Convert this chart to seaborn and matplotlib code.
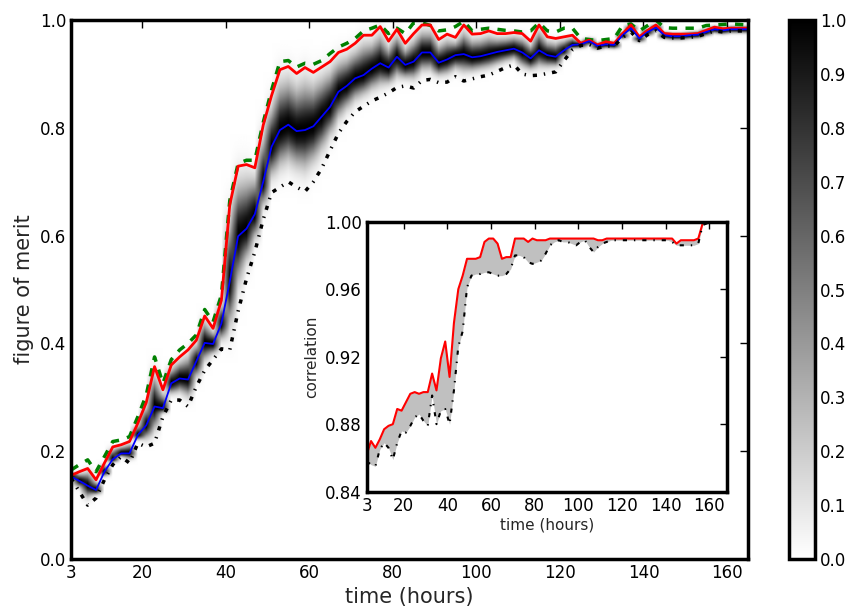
import numpy as np
import matplotlib
matplotlib.use("Agg")
import matplotlib.pyplot as plt
import seaborn as sns

# sample times (hours)
hours = np.arange(3, 167, 2)

# main panel: quantile curves of the figure of merit
fom_top = [0.165, 0.175, 0.184, 0.162, 0.19, 0.218, 0.221, 0.227, 0.264, 0.304,
           0.375, 0.326, 0.37, 0.388, 0.40, 0.416, 0.463, 0.44, 0.49, 0.665,
           0.734, 0.74, 0.74, 0.81, 0.87, 0.923, 0.925, 0.913, 0.92, 0.918,
           0.925, 0.938, 0.95, 0.957, 0.966, 0.98, 0.985, 0.991, 0.975, 0.985,
           0.975, 0.995, 0.995, 0.99, 0.98, 0.982, 0.988, 0.998, 0.98, 0.983,
           0.985, 0.983, 0.981, 0.98, 0.978, 0.98, 0.995, 0.98, 0.978, 0.985,
           0.985, 0.966, 0.964, 0.962, 0.964, 0.966, 0.99, 0.993, 0.98, 0.99,
           1.0, 0.986, 0.985, 0.985, 0.985, 0.985, 0.99, 0.991, 0.992, 0.993,
           0.992, 0.991]
fom_high = [0.155, 0.162, 0.168, 0.147, 0.178, 0.208, 0.212, 0.218, 0.252, 0.29,
            0.357, 0.314, 0.36, 0.375, 0.388, 0.406, 0.451, 0.428, 0.48, 0.657,
            0.729, 0.732, 0.726, 0.805, 0.86, 0.908, 0.914, 0.901, 0.912, 0.903,
            0.913, 0.923, 0.94, 0.946, 0.957, 0.972, 0.972, 0.988, 0.961, 0.983,
            0.957, 0.975, 0.991, 0.991, 0.964, 0.974, 0.968, 0.991, 0.974, 0.975,
            0.98, 0.975, 0.975, 0.977, 0.975, 0.961, 0.991, 0.969, 0.966, 0.969,
            0.972, 0.957, 0.963, 0.954, 0.96, 0.957, 0.975, 0.991, 0.969, 0.981,
            0.991, 0.975, 0.974, 0.974, 0.974, 0.975, 0.981, 0.987, 0.984, 0.985,
            0.985, 0.985]
fom_median = [0.153, 0.145, 0.136, 0.128, 0.162, 0.185, 0.196, 0.196, 0.23, 0.248,
              0.283, 0.28, 0.326, 0.335, 0.333, 0.367, 0.401, 0.399, 0.437, 0.515,
              0.599, 0.613, 0.64, 0.70, 0.765, 0.796, 0.806, 0.794, 0.796, 0.803,
              0.821, 0.839, 0.867, 0.878, 0.892, 0.898, 0.91, 0.92, 0.912, 0.932,
              0.917, 0.923, 0.94, 0.94, 0.921, 0.927, 0.935, 0.937, 0.931, 0.933,
              0.937, 0.941, 0.944, 0.947, 0.94, 0.929, 0.944, 0.935, 0.932, 0.944,
              0.954, 0.955, 0.961, 0.952, 0.955, 0.954, 0.972, 0.985, 0.966, 0.978,
              0.986, 0.972, 0.97, 0.97, 0.972, 0.973, 0.978, 0.983, 0.981, 0.983,
              0.983, 0.983]
fom_low = [0.15, 0.125, 0.10, 0.113, 0.147, 0.175, 0.19, 0.178, 0.215, 0.208,
           0.215, 0.264, 0.295, 0.295, 0.283, 0.32, 0.35, 0.37, 0.39, 0.388,
           0.46, 0.52, 0.57, 0.63, 0.68, 0.69, 0.70, 0.69, 0.682, 0.70,
           0.725, 0.758, 0.79, 0.812, 0.83, 0.84, 0.85, 0.857, 0.865, 0.875,
           0.878, 0.874, 0.888, 0.89, 0.884, 0.885, 0.895, 0.887, 0.891, 0.895,
           0.898, 0.905, 0.912, 0.917, 0.9, 0.897, 0.898, 0.901, 0.904, 0.925,
           0.945, 0.953, 0.955, 0.948, 0.952, 0.952, 0.968, 0.978, 0.962, 0.973,
           0.98, 0.968, 0.967, 0.967, 0.968, 0.97, 0.975, 0.98, 0.978, 0.98,
           0.98, 0.98]

# inset: correlation band
corr_high = [0.862, 0.870, 0.866, 0.871, 0.877, 0.879, 0.880, 0.889, 0.888, 0.893,
             0.898, 0.899, 0.898, 0.899, 0.899, 0.910, 0.900, 0.919, 0.929, 0.908,
             0.940, 0.960, 0.968, 0.978, 0.978, 0.978, 0.979, 0.988, 0.990, 0.990,
             0.987, 0.978, 0.979, 0.979, 0.990, 0.990, 0.990, 0.988, 0.990, 0.989,
             0.989, 0.989, 0.990, 0.990, 0.990, 0.990, 0.990, 0.990, 0.990, 0.990,
             0.990, 0.990, 0.990, 0.989, 0.989, 0.990, 0.990, 0.990, 0.990, 0.990,
             0.990, 0.990, 0.990, 0.990, 0.990, 0.990, 0.990, 0.990, 0.990, 0.990,
             0.990, 0.987, 0.989, 0.989, 0.989, 0.989, 0.990, 0.999, 1.0, 1.0,
             1.0, 1.0]
corr_low = [0.858, 0.856, 0.855, 0.865, 0.869, 0.866, 0.859, 0.869, 0.876, 0.875,
            0.879, 0.884, 0.886, 0.882, 0.879, 0.897, 0.880, 0.888, 0.889, 0.880,
            0.900, 0.926, 0.935, 0.961, 0.968, 0.969, 0.969, 0.970, 0.970, 0.969,
            0.968, 0.968, 0.969, 0.972, 0.980, 0.980, 0.979, 0.976, 0.975, 0.976,
            0.977, 0.981, 0.986, 0.988, 0.989, 0.988, 0.988, 0.987, 0.986, 0.988,
            0.989, 0.985, 0.982, 0.985, 0.987, 0.988, 0.989, 0.989, 0.989, 0.989,
            0.989, 0.989, 0.989, 0.989, 0.989, 0.989, 0.989, 0.989, 0.989, 0.989,
            0.988, 0.986, 0.986, 0.986, 0.986, 0.986, 0.987, 0.998, 0.999, 1.0,
            1.0, 1.0]

main_xticks = [3, 20, 40, 60, 80, 100, 120, 140, 160]

sns.set_style("white")
plt.rcParams['font.family'] = ['DejaVu Sans']
plt.rcParams.update({
    'xtick.direction': 'in', 'ytick.direction': 'in',
    'xtick.top': True, 'ytick.right': True,
    'xtick.major.size': 6, 'ytick.major.size': 6,
    'xtick.major.width': 1, 'ytick.major.width': 1,
    'axes.edgecolor': 'black', 'axes.linewidth': 2.5,
    'xtick.color': 'black', 'ytick.color': 'black',
    'lines.scale_dashes': False,
})

fig = plt.figure(figsize=(8.48, 6.10), dpi=100)
ax = fig.add_axes([0.0837, 0.0836, 0.7983, 0.8834])

# density image built column by column from the quantile curves
ys = np.linspace(0, 1, 600)
med = np.array(fom_median)
s_up = np.maximum((np.array(fom_high) - med) / 2.3, 0.004)
s_dn = np.maximum((med - np.array(fom_low)) / 2.8, 0.004)
d = ys[:, None] - med[None, :]
z = np.where(d >= 0, d / s_up[None, :], d / s_dn[None, :])
dens = np.exp(-0.5 * z ** 2)
im = ax.imshow(dens, origin='lower', extent=(2, 166, 0, 1), aspect='auto',
               cmap='gray_r', vmin=0, vmax=1, interpolation='bilinear')

sns.lineplot(x=hours, y=fom_top, ax=ax, color='green', lw=2.5,
             linestyle=(0, (6, 6)))
sns.lineplot(x=hours, y=fom_high, ax=ax, color='red', lw=2)
sns.lineplot(x=hours, y=fom_median, ax=ax, color='blue', lw=1.3)
sns.lineplot(x=hours, y=fom_low, ax=ax, color='black', lw=2.5,
             linestyle=(0, (3, 5, 1, 5)))

ax.set_xlim(3, 165)
ax.set_ylim(0, 1)
ax.set_xticks(main_xticks)
ax.set_yticks(np.arange(0, 1.01, 0.2))
ax.set_yticklabels(['%.1f' % v for v in np.arange(0, 1.01, 0.2)])
ax.tick_params(labelsize=12)
ax.set_xlabel('time (hours)', fontsize=15)
ax.set_ylabel('figure of merit', fontsize=15)

cax = fig.add_axes([0.930, 0.0836, 0.031, 0.8834])
cb = fig.colorbar(im, cax=cax)
cb.set_ticks(np.arange(0, 1.01, 0.1))
cb.set_ticklabels(['%.1f' % v for v in np.arange(0, 1.01, 0.1)])
cb.outline.set_linewidth(2.5)
cax.tick_params(labelsize=12, direction='in', length=6)

# inset
ins = fig.add_axes([0.4324, 0.194, 0.4245, 0.4426])
ins.set_facecolor('white')
ins.fill_between(hours, corr_low, corr_high, color='#c0c0c0', lw=0)
sns.lineplot(x=hours, y=corr_high, ax=ins, color='red', lw=1.5)
sns.lineplot(x=hours, y=corr_low, ax=ins, color='black', lw=1.5,
             linestyle=(0, (3, 5, 1, 5)))
ins.set_xlim(3, 168)
ins.set_ylim(0.84, 1.0)
ins.set_xticks(main_xticks)
ins.set_yticks([0.84, 0.88, 0.92, 0.96, 1.00])
ins.set_yticklabels(['0.84', '0.88', '0.92', '0.96', '1.00'])
ins.tick_params(labelsize=12, length=5)
ins.set_xlabel('time (hours)', fontsize=11, labelpad=2)
ins.set_ylabel('correlation', fontsize=11)

fig.savefig('out.png', dpi=100)
